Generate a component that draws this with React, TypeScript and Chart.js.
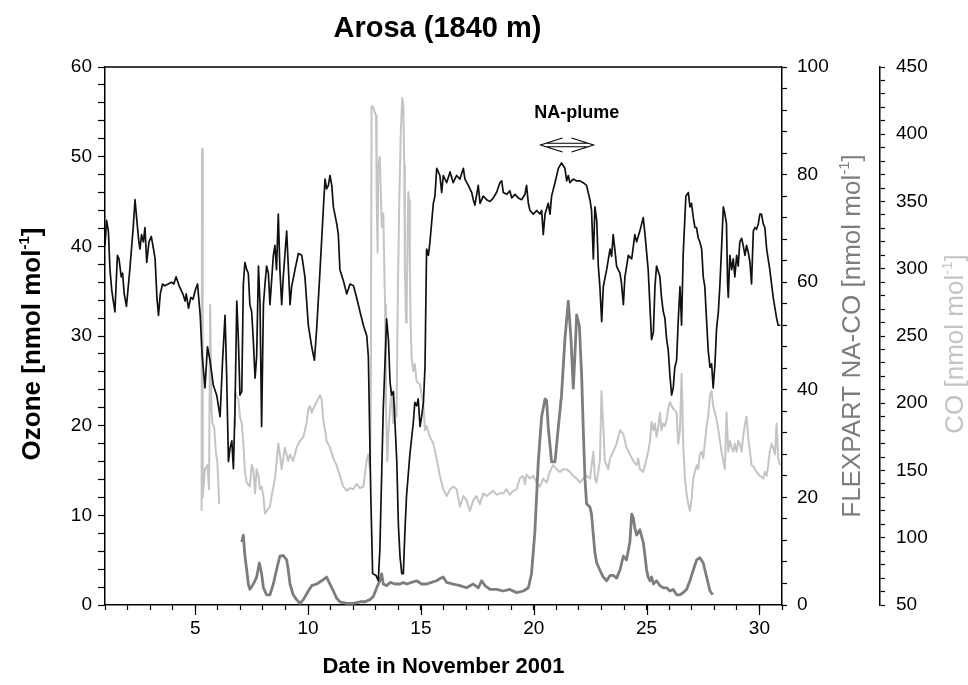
import React, { useEffect, useRef } from 'react';
import { Chart, registerables } from 'chart.js';

Chart.register(...registerables);

const FONT = '"Liberation Sans", Arial, Helvetica, sans-serif';

// ---------------- data ----------------
const chartTitle = 'Arosa (1840 m)';
const xTitle = 'Date in November 2001';
const xLabelDays = [5, 10, 15, 20, 25, 30];

const ozoneDays = [
  1.0, 1.07, 1.15, 1.22, 1.3, 1.44, 1.55, 1.62, 1.72, 1.78, 1.85, 1.95, 2.1, 2.25, 2.33, 2.4, 2.5, 2.55, 2.62, 2.7,
  2.77, 2.85, 2.95, 3.05, 3.15, 3.22, 3.3, 3.37, 3.45, 3.55, 3.65, 3.8, 3.95, 4.05, 4.15, 4.3, 4.45, 4.55, 4.6, 4.7,
  4.8, 4.9, 5.0, 5.1, 5.22, 5.3, 5.43, 5.54, 5.65, 5.8, 5.95, 6.1, 6.21, 6.32, 6.39, 6.47, 6.54, 6.62, 6.69, 6.76,
  6.84, 6.91, 6.98, 7.06, 7.13, 7.2, 7.28, 7.35, 7.42, 7.5, 7.57, 7.65, 7.72, 7.8, 7.87, 7.94, 8.02, 8.09, 8.16, 8.24,
  8.31, 8.46, 8.53, 8.6, 8.68, 8.75, 8.83, 8.9, 9.05, 9.13, 9.2, 9.27, 9.42, 9.57, 9.72, 9.86, 10.01, 10.16, 10.28, 10.38,
  10.53, 10.68, 10.75, 10.82, 10.9, 10.97, 11.05, 11.12, 11.27, 11.34, 11.41, 11.56, 11.71, 11.86, 12.01, 12.15, 12.3, 12.45, 12.6, 12.67,
  12.78, 12.86, 13.01, 13.11, 13.18, 13.33, 13.48, 13.56, 13.63, 13.7, 13.78, 13.85, 13.93, 14.0, 14.07, 14.15, 14.22, 14.29, 14.36, 14.51,
  14.66, 14.73, 14.81, 14.88, 14.96, 15.03, 15.11, 15.18, 15.25, 15.33, 15.4, 15.55, 15.62, 15.7, 15.84, 15.92, 15.99, 16.14, 16.29, 16.43,
  16.58, 16.73, 16.88, 16.95, 17.1, 17.25, 17.32, 17.39, 17.54, 17.62, 17.76, 17.91, 18.06, 18.21, 18.35, 18.5, 18.58, 18.65, 18.8, 18.94,
  19.02, 19.17, 19.31, 19.46, 19.61, 19.68, 19.76, 19.83, 19.98, 20.13, 20.27, 20.35, 20.42, 20.5, 20.64, 20.72, 20.79, 20.94, 21.09, 21.23,
  21.38, 21.46, 21.53, 21.6, 21.75, 21.9, 22.05, 22.19, 22.34, 22.41, 22.49, 22.56, 22.64, 22.71, 22.79, 22.86, 22.93, 23.01, 23.08, 23.23,
  23.38, 23.45, 23.52, 23.6, 23.67, 23.74, 23.82, 23.89, 23.97, 24.04, 24.19, 24.34, 24.48, 24.56, 24.7, 24.85, 24.93, 25.07, 25.22, 25.3,
  25.37, 25.44, 25.59, 25.66, 25.74, 25.81, 25.89, 25.96, 26.03, 26.11, 26.18, 26.25, 26.33, 26.4, 26.48, 26.55, 26.62, 26.74, 26.85, 26.92,
  26.99, 27.07, 27.14, 27.21, 27.29, 27.36, 27.44, 27.51, 27.58, 27.66, 27.73, 27.81, 27.88, 27.95, 28.03, 28.1, 28.18, 28.25, 28.32, 28.4,
  28.47, 28.54, 28.59, 28.62, 28.69, 28.77, 28.84, 28.91, 28.99, 29.06, 29.13, 29.21, 29.28, 29.36, 29.43, 29.5, 29.58, 29.65, 29.73, 29.8,
  29.87, 29.95, 30.02, 30.09, 30.17, 30.24, 30.32, 30.46, 30.61, 30.76, 30.83, 30.93
];
const ozoneValues = [
  40.1, 42.9, 41.7, 37.4, 35.1, 32.7, 39.0, 38.6, 36.6, 37.0, 34.7, 33.3, 37.4, 42.1, 45.2, 43.2, 40.5, 39.7, 41.3, 40.5,
  42.1, 38.2, 40.5, 41.1, 39.7, 38.6, 34.3, 32.3, 34.7, 35.8, 35.6, 35.8, 36.0, 35.8, 36.6, 35.5, 34.7, 33.9, 34.7, 33.1,
  34.3, 34.1, 35.1, 35.8, 32.3, 28.0, 24.2, 28.8, 27.3, 24.5, 23.4, 21.0, 27.3, 32.3, 25.7, 16.0, 17.5, 18.3, 15.2, 21.8,
  33.9, 29.6, 23.4, 23.8, 35.8, 38.2, 37.4, 37.0, 33.5, 32.7, 29.6, 25.3, 27.7, 37.8, 33.5, 19.9, 33.5, 35.8, 37.8, 37.0,
  33.5, 39.0, 40.1, 37.4, 43.6, 37.4, 33.5, 36.6, 41.7, 37.4, 33.5, 35.5, 37.4, 39.2, 39.0, 36.6, 31.2, 28.8, 27.3, 30.8,
  37.4, 44.4, 47.5, 46.4, 46.8, 47.9, 46.8, 44.4, 42.5, 41.3, 37.4, 36.2, 34.7, 35.8, 35.6, 34.3, 32.7, 31.2, 30.0, 27.7,
  12.0, 3.5, 3.3, 2.7, 6.2, 21.8, 31.9, 29.6, 24.9, 23.4, 23.8, 20.3, 16.0, 9.0, 5.5, 3.5, 3.5, 8.2, 12.1, 16.8,
  20.3, 22.6, 22.2, 23.0, 19.9, 21.0, 22.6, 26.5, 39.7, 39.0, 40.5, 44.8, 45.6, 48.7, 47.9, 46.0, 47.9, 47.1, 48.3, 47.1,
  47.9, 47.5, 48.7, 47.5, 46.8, 46.0, 45.2, 44.6, 46.8, 44.8, 45.6, 45.2, 45.0, 45.4, 46.0, 47.1, 47.3, 46.0, 45.8, 46.2,
  45.4, 45.8, 45.4, 45.2, 45.8, 46.8, 44.8, 44.0, 43.6, 44.0, 43.6, 44.0, 41.3, 43.6, 44.8, 43.6, 45.6, 47.1, 48.7, 49.3,
  48.7, 47.3, 47.9, 47.1, 47.5, 47.3, 47.3, 47.1, 46.8, 46.0, 45.2, 44.0, 38.6, 44.4, 42.9, 37.8, 35.5, 31.6, 35.5, 37.4,
  39.7, 38.9, 41.3, 39.5, 37.8, 37.4, 37.0, 35.8, 33.5, 36.6, 39.0, 38.6, 41.3, 40.5, 41.7, 43.2, 41.3, 37.4, 29.6, 30.4,
  35.5, 37.8, 36.6, 34.3, 32.7, 32.0, 29.6, 28.4, 25.7, 23.4, 24.2, 26.5, 27.3, 31.6, 35.5, 31.2, 39.0, 45.6, 46.0, 44.4,
  44.8, 43.2, 42.1, 42.1, 40.9, 40.5, 39.7, 36.6, 35.5, 31.6, 28.4, 26.5, 26.9, 24.2, 26.9, 30.8, 32.7, 35.8, 39.7, 44.4,
  43.6, 42.5, 35.8, 34.3, 39.0, 37.4, 38.6, 36.6, 39.0, 37.8, 40.5, 40.9, 40.1, 39.0, 40.1, 39.4, 38.2, 35.8, 41.7, 42.1,
  41.9, 42.5, 43.6, 43.6, 42.5, 42.1, 39.7, 37.4, 34.3, 32.0, 31.2, 31.2
];

const flexDays = [
  7.06, 7.13, 7.2, 7.28, 7.35, 7.42, 7.57, 7.72, 7.84, 7.94, 8.02, 8.16, 8.31, 8.46, 8.6, 8.75, 8.9, 9.05, 9.12, 9.2,
  9.34, 9.49, 9.64, 9.79, 10.01, 10.16, 10.38, 10.6, 10.82, 10.97, 11.12, 11.26, 11.41, 11.71, 12.0, 12.3, 12.52, 12.74, 12.89, 13.04,
  13.18, 13.26, 13.33, 13.48, 13.63, 13.85, 14.07, 14.22, 14.37, 14.59, 14.81, 15.03, 15.25, 15.47, 15.69, 15.84, 15.99, 16.14, 16.43, 16.73,
  17.02, 17.32, 17.54, 17.69, 17.84, 18.06, 18.35, 18.65, 18.94, 19.24, 19.54, 19.76, 19.9, 20.05, 20.2, 20.35, 20.5, 20.57, 20.64, 20.79,
  20.94, 21.09, 21.23, 21.38, 21.53, 21.65, 21.75, 21.82, 21.9, 22.02, 22.12, 22.19, 22.27, 22.34, 22.49, 22.56, 22.64, 22.71, 22.79, 22.93,
  23.08, 23.23, 23.38, 23.52, 23.67, 23.82, 23.97, 24.11, 24.26, 24.34, 24.41, 24.48, 24.56, 24.7, 24.85, 24.93, 25.0, 25.07, 25.15, 25.22,
  25.3, 25.44, 25.59, 25.74, 25.89, 26.03, 26.18, 26.33, 26.48, 26.62, 26.77, 26.92, 27.07, 27.22, 27.36, 27.51, 27.66, 27.81, 27.93
];
const flexValues = [
  11.7, 13.0, 9.1, 6.5, 3.9, 2.9, 3.9, 5.2, 7.8, 5.8, 3.2, 1.9, 1.9, 3.9, 6.5, 9.1, 9.2, 8.4, 6.5, 3.9,
  1.9, 1.0, 0.3, 1.0, 2.6, 3.6, 3.9, 4.5, 5.2, 3.9, 2.6, 1.3, 0.6, 0.3, 0.3, 0.6, 0.6, 1.0, 1.6, 3.2,
  4.5, 5.8, 3.9, 3.6, 4.2, 3.9, 3.9, 4.2, 3.9, 4.2, 4.5, 3.9, 3.9, 4.2, 4.5, 4.9, 5.2, 4.2, 3.9, 3.6,
  3.2, 3.9, 3.2, 4.5, 3.6, 2.9, 2.9, 2.6, 2.9, 2.3, 2.6, 3.2, 5.8, 13.6, 26.6, 35.1, 38.3, 38.0, 33.1, 26.6,
  26.6, 33.1, 39.0, 49.4, 56.5, 49.4, 40.3, 46.1, 53.9, 51.9, 42.9, 33.1, 23.4, 18.8, 18.2, 16.9, 13.0, 9.7, 7.8, 6.5,
  5.2, 4.5, 5.5, 5.5, 5.0, 6.5, 9.1, 8.4, 11.7, 16.9, 16.2, 14.3, 13.0, 14.0, 11.7, 9.1, 6.5, 5.2, 4.5, 5.2,
  3.9, 4.5, 3.6, 3.2, 3.2, 2.6, 2.9, 1.9, 1.9, 2.3, 2.9, 4.5, 6.5, 8.4, 8.8, 7.8, 5.2, 2.6, 1.9
];

const coDays = [
  5.28, 5.3, 5.33, 5.43, 5.54, 5.61, 5.66, 5.72, 5.76, 5.84, 5.91, 5.98, 6.06, 6.4, 6.72, 6.76, 6.84, 6.91, 6.98, 7.06,
  7.13, 7.2, 7.28, 7.42, 7.5, 7.57, 7.65, 7.72, 7.8, 7.87, 7.94, 8.02, 8.09, 8.16, 8.31, 8.38, 8.53, 8.68, 8.75, 8.83,
  8.97, 9.12, 9.2, 9.34, 9.49, 9.64, 9.79, 9.93, 10.01, 10.08, 10.16, 10.23, 10.38, 10.53, 10.6, 10.67, 10.75, 10.82, 10.97, 11.12,
  11.26, 11.41, 11.56, 11.71, 11.85, 12.0, 12.15, 12.3, 12.45, 12.59, 12.67, 12.74, 12.78, 12.81, 12.89, 12.96, 13.01, 13.04, 13.08, 13.11,
  13.18, 13.23, 13.27, 13.33, 13.41, 13.45, 13.51, 13.55, 13.63, 13.7, 13.77, 13.85, 13.92, 13.97, 14.04, 14.11, 14.17, 14.22, 14.26, 14.29,
  14.34, 14.37, 14.41, 14.44, 14.48, 14.51, 14.54, 14.59, 14.66, 14.73, 14.81, 14.96, 15.03, 15.1, 15.18, 15.25, 15.4, 15.55, 15.69, 15.84,
  15.99, 16.14, 16.29, 16.43, 16.58, 16.73, 16.88, 17.02, 17.17, 17.32, 17.46, 17.61, 17.76, 17.91, 18.06, 18.2, 18.35, 18.5, 18.65, 18.79,
  18.94, 19.09, 19.24, 19.38, 19.53, 19.61, 19.68, 19.83, 19.98, 20.12, 20.27, 20.42, 20.57, 20.71, 20.86, 21.01, 21.16, 21.31, 21.45, 21.6,
  21.75, 21.9, 22.04, 22.19, 22.34, 22.49, 22.64, 22.71, 22.78, 22.93, 23.0, 23.08, 23.15, 23.23, 23.3, 23.38, 23.52, 23.67, 23.82, 23.97,
  24.04, 24.11, 24.26, 24.41, 24.56, 24.63, 24.7, 24.85, 25.0, 25.07, 25.15, 25.22, 25.3, 25.37, 25.44, 25.52, 25.59, 25.66, 25.74, 25.81,
  25.89, 25.96, 26.03, 26.11, 26.18, 26.33, 26.4, 26.48, 26.55, 26.59, 26.62, 26.7, 26.77, 26.85, 26.92, 26.99, 27.07, 27.14, 27.22, 27.29,
  27.36, 27.44, 27.51, 27.58, 27.66, 27.73, 27.81, 27.88, 27.95, 28.03, 28.1, 28.18, 28.25, 28.32, 28.4, 28.47, 28.54, 28.62, 28.69, 28.77,
  28.84, 28.91, 28.99, 29.06, 29.13, 29.21, 29.28, 29.36, 29.43, 29.5, 29.58, 29.65, 29.73, 29.87, 30.02, 30.17, 30.24, 30.32, 30.39, 30.46,
  30.54, 30.61, 30.69, 30.76, 30.83, 30.91
];
const coValues = [
  120, 389, 130, 151, 154, 136, 273, 195, 185, 182, 164, 156, 125, null, 182, 209, 205, 203, 190, 185,
  170, 149, 141, 138, 154, 151, 133, 151, 146, 136, 138, 131, 118, 120, 123, 131, 144, 170, 162, 151,
  167, 157, 162, 157, 167, 172, 175, 185, 196, 198, 193, 196, 201, 206, 203, 188, 180, 172, 167, 159,
  154, 146, 138, 135, 137, 136, 140, 137, 138, 157, 162, 151, 195, 421, 420, 416, 414, 351, 312, 377,
  383, 351, 331, 341, 273, 196, 157, 175, 196, 209, 185, 198, 190, 273, 351, 403, 427, 421, 377, 299,
  260, 273, 325, 357, 351, 299, 260, 234, 224, 229, 216, 214, 206, 201, 180, 183, 175, 170, 159, 146,
  136, 131, 136, 138, 136, 123, 131, 128, 120, 128, 131, 125, 133, 131, 133, 135, 132, 133, 133, 136,
  132, 135, 136, 144, 146, 140, 147, 144, 146, 141, 138, 144, 141, 149, 154, 151, 149, 151, 151, 149,
  146, 144, 141, 144, 146, 144, 164, 144, 141, 157, 209, 183, 157, 154, 151, 159, 164, 170, 180, 177,
  172, 167, 162, 157, 154, 159, 151, 149, 159, 164, 172, 186, 180, 185, 175, 183, 193, 180, 185, 183,
  188, 196, 201, 198, 196, 193, 170, 180, 222, 196, 170, 144, 133, 125, 120, 128, 144, 149, 154, 151,
  162, 164, 159, 170, 183, 190, 206, 209, 198, 193, 188, 180, 172, 164, 157, 151, 193, 164, 172, 167,
  164, 170, 164, 172, 170, 164, 175, 185, 190, 175, 164, 154, 153, 149, 146, 144, 149, 146, 154, 164,
  170, 167, 162, 185, 159, 154
];

// NA-plume annotation (day range of the arrow, ozone-axis heights)
const plumeLabel = 'NA-plume';
const plumeStartDay = 20.3;
const plumeEndDay = 22.65;
const plumeArrowOzone = 51.3;
const plumeTextDay = 21.9;
const plumeTextOzone = 54.9;

// ---------------- helpers ----------------
const toPoints = (xs: number[], ys: (number | null)[]) => xs.map((x, i) => ({ x, y: ys[i] }));

function drawVerticalLabel(
  ctx: CanvasRenderingContext2D, cx: number, cy: number,
  main: string, sup: string, tail: string, font: string, supFont: string, color: string, supRise: number
) {
  ctx.save();
  ctx.translate(cx, cy);
  ctx.rotate(-Math.PI / 2);
  ctx.font = font;
  const w1 = ctx.measureText(main).width;
  const w3 = ctx.measureText(tail).width;
  ctx.font = supFont;
  const w2 = ctx.measureText(sup).width;
  const x0 = -(w1 + w2 + w3) / 2;
  ctx.fillStyle = color;
  ctx.textBaseline = 'middle';
  ctx.textAlign = 'left';
  ctx.font = font;
  ctx.fillText(main, x0, 0);
  ctx.font = supFont;
  ctx.fillText(sup, x0 + w1, -supRise);
  ctx.font = font;
  ctx.fillText(tail, x0 + w1 + w2, 0);
  ctx.restore();
}

const decorPlugin = {
  id: 'decor',
  afterDraw(chart: any) {
    const { ctx, chartArea, scales } = chart;
    const xs = scales.x, ys = scales.y, y1 = scales.y1, y2 = scales.y2;
    ctx.save();
    // top frame line
    ctx.strokeStyle = '#000';
    ctx.lineWidth = 1.5;
    ctx.beginPath();
    ctx.moveTo(chartArea.left, chartArea.top);
    ctx.lineTo(chartArea.right, chartArea.top);
    ctx.stroke();
    // longer major ticks on x axis
    ctx.beginPath();
    for (const d of xLabelDays) {
      const px = Math.round(xs.getPixelForValue(d)) + 0.5;
      ctx.moveTo(px, chartArea.bottom);
      ctx.lineTo(px, chartArea.bottom + 10);
    }
    ctx.lineWidth = 1.2;
    ctx.stroke();

    // chart title
    ctx.fillStyle = '#000';
    ctx.font = `bold 29px ${FONT}`;
    ctx.textAlign = 'center';
    ctx.textBaseline = 'middle';
    ctx.fillText(chartTitle, (chartArea.left + chartArea.right) / 2 - 6, chartArea.top - 38);

    const cy = (chartArea.top + chartArea.bottom) / 2;
    // axis titles
    drawVerticalLabel(ctx, ys.left + 33, cy + 8, 'Ozone [nmol mol', '-1', ']',
      `bold 26px ${FONT}`, `bold 15px ${FONT}`, '#000', 8);
    drawVerticalLabel(ctx, y1.left + 71, cy, 'FLEXPART NA-CO [nmol mol', '-1', ']',
      `26px ${FONT}`, `15px ${FONT}`, '#7d7d7d', 8);
    drawVerticalLabel(ctx, y2.left + 76, cy + 8, 'CO [nmol mol', '-1', ']',
      `26px ${FONT}`, `15px ${FONT}`, '#c4c4c4', 8);

    // NA-plume annotation
    const ax1 = xs.getPixelForValue(plumeStartDay);
    const ax2 = xs.getPixelForValue(plumeEndDay);
    const ay = ys.getPixelForValue(plumeArrowOzone);
    ctx.strokeStyle = '#000';
    ctx.lineWidth = 1.1;
    ctx.beginPath();
    ctx.moveTo(ax1 + 22, ay - 7); ctx.lineTo(ax1, ay); ctx.lineTo(ax1 + 22, ay + 7);
    ctx.moveTo(ax2 - 22, ay - 7); ctx.lineTo(ax2, ay); ctx.lineTo(ax2 - 22, ay + 7);
    ctx.moveTo(ax1 + 6, ay - 1.8); ctx.lineTo(ax2 - 6, ay - 1.8);
    ctx.moveTo(ax1 + 6, ay + 1.8); ctx.lineTo(ax2 - 6, ay + 1.8);
    ctx.stroke();
    ctx.font = `bold 18px ${FONT}`;
    ctx.fillStyle = '#000';
    ctx.fillText(plumeLabel, xs.getPixelForValue(plumeTextDay), ys.getPixelForValue(plumeTextOzone));
    ctx.restore();
  }
};

const axisCommon = (tickLength: number) => ({
  grid: { display: true, drawOnChartArea: false, drawTicks: true, tickLength, color: '#000', tickWidth: 1.2 },
  border: { display: true, color: '#000', width: 1.5 },
});

export default function App() {
  const ref = useRef<HTMLCanvasElement | null>(null);
  useEffect(() => {
    document.body.style.margin = '0';
    const canvas = ref.current;
    if (!canvas) return;
    const chart = new Chart(canvas, {
      type: 'line',
      data: {
        datasets: [
          {
            label: 'Ozone',
            data: toPoints(ozoneDays, ozoneValues),
            yAxisID: 'y',
            borderColor: '#111111',
            borderWidth: 1.7,
            pointRadius: 0,
            tension: 0,
            borderJoinStyle: 'round',
          },
          {
            label: 'FLEXPART NA-CO',
            data: toPoints(flexDays, flexValues),
            yAxisID: 'y1',
            borderColor: '#7d7d7d',
            borderWidth: 2.8,
            pointRadius: 0,
            tension: 0,
            borderJoinStyle: 'round',
          },
          {
            label: 'CO',
            data: toPoints(coDays, coValues),
            yAxisID: 'y2',
            borderColor: '#c4c4c4',
            borderWidth: 2,
            pointRadius: 0,
            tension: 0,
            spanGaps: false,
            borderJoinStyle: 'round',
          },
        ],
      },
      options: {
        animation: false,
        responsive: true,
        maintainAspectRatio: false,
        layout: { padding: { top: 67, left: 0, right: 0, bottom: 0 } },
        plugins: { legend: { display: false }, tooltip: { enabled: false }, title: { display: false } },
        scales: {
          x: {
            type: 'linear',
            position: 'bottom',
            min: 1,
            max: 31,
            ...axisCommon(5),
            ticks: {
              stepSize: 1,
              autoSkip: false,
              maxRotation: 0,
              padding: 7,
              color: '#000',
              font: { family: FONT, size: 19 },
              callback: (v: any) => (xLabelDays.includes(Number(v)) ? String(v) : ''),
            },
            title: {
              display: true,
              text: xTitle,
              color: '#000',
              font: { family: FONT, size: 22, weight: 'bold' },
              padding: { top: 0, bottom: 5 },
            },
            afterFit: (s: any) => { s.height = 80; },
          },
          y: {
            type: 'linear',
            position: 'left',
            min: 0,
            max: 60,
            ...axisCommon(7),
            ticks: {
              stepSize: 2,
              autoSkip: false,
              padding: 6,
              color: '#000',
              font: { family: FONT, size: 19 },
              callback: (v: any) => (Number(v) % 10 === 0 ? String(v) : ''),
            },
            afterFit: (s: any) => { s.width = 105; },
          },
          y1: {
            type: 'linear',
            position: 'right',
            min: 0,
            max: 100,
            ...axisCommon(5),
            ticks: {
              stepSize: 4,
              autoSkip: false,
              padding: 10,
              color: '#000',
              font: { family: FONT, size: 19 },
              callback: (v: any) => (Number(v) % 20 === 0 ? String(v) : ''),
            },
            afterFit: (s: any) => { s.width = 98; },
          },
          y2: {
            type: 'linear',
            position: 'right',
            min: 50,
            max: 450,
            ...axisCommon(5),
            ticks: {
              stepSize: 10,
              autoSkip: false,
              padding: 11,
              color: '#000',
              font: { family: FONT, size: 19 },
              callback: (v: any) => (Number(v) % 50 === 0 ? String(v) : ''),
            },
            afterFit: (s: any) => { s.width = 88; },
          },
        },
      } as any,
      plugins: [decorPlugin],
    });
    return () => chart.destroy();
  }, []);

  return (
    <div style={{ position: 'fixed', left: 0, top: 0, width: 968, height: 685, background: '#fff' }}>
      <canvas ref={ref} />
    </div>
  );
}
